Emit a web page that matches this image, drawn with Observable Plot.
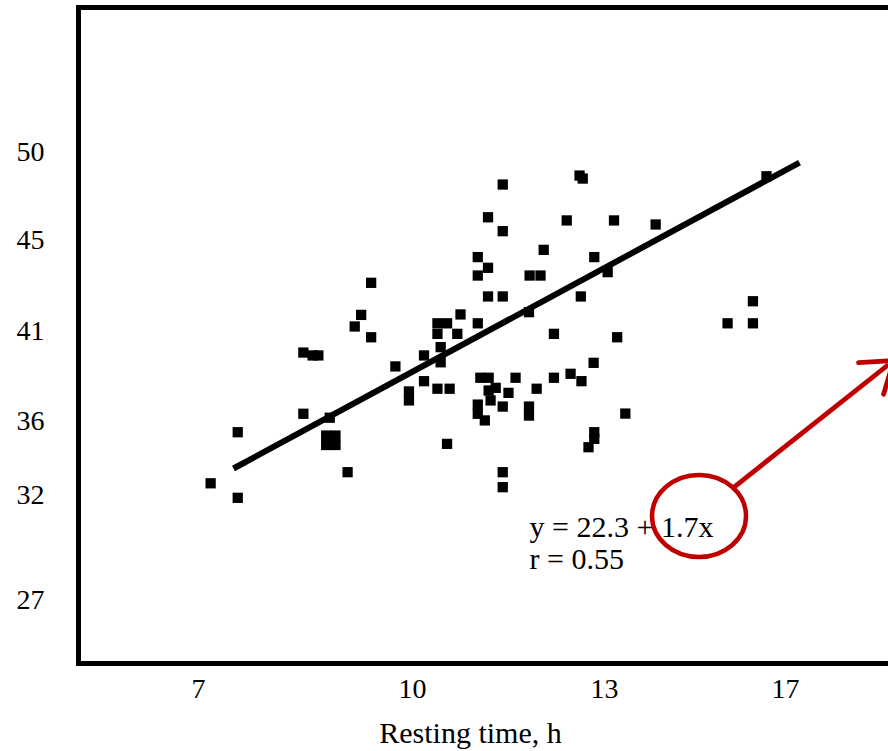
<!DOCTYPE html>
<html><head><meta charset="utf-8">
<script src="https://cdn.jsdelivr.net/npm/d3@7"></script>
<script src="https://cdn.jsdelivr.net/npm/@observablehq/plot@0.6"></script>
<style>
html,body{margin:0;padding:0;background:#fff;overflow:hidden;}
svg{overflow:hidden;}
</style></head><body><div id="chart"></div>
<script>
// Data (axis units as labelled on the chart)
const restingTime = [9.42,9.28,9.19,9.42,8.47,8.60,8.68,9.76,10.18,10.18,9.95,9.95,8.47,8.84,8.79,8.92,8.79,8.92,7.55,9.09,7.17,7.55,
  11.41,12.61,12.66,11.18,12.41,13.21,11.41,12.05,11.02,12.84,11.18,11.02,11.83,12.00,13.07,11.18,11.41,12.63,10.75,11.02,10.39,10.54,
  10.39,10.70,11.82,12.21,13.28,10.44,10.44,12.83,10.58,10.39,11.06,11.19,11.61,12.21,12.47,12.64,11.19,11.30,11.50,11.94,11.22,11.41,
  11.02,11.02,11.13,11.82,11.82,10.54,12.84,12.84,12.75,11.41,11.41,13.46,14.13,16.58,16.28,15.72,16.28];
const measure = [43.14,41.73,41.22,40.68,39.83,39.67,39.67,39.06,39.67,38.24,37.67,37.17,36.43,36.21,35.24,35.24,34.73,34.73,35.42,33.26,32.66,31.89,
  48.18,48.69,48.52,46.32,46.14,46.14,45.53,44.59,44.27,44.27,43.80,43.46,43.46,43.46,43.61,42.54,42.54,42.54,41.75,41.36,41.36,41.36,
  40.87,40.87,41.85,40.87,40.68,40.13,39.29,39.26,37.82,37.82,38.43,38.43,38.43,38.43,38.65,38.24,37.72,37.87,37.59,37.82,37.17,36.83,
  36.94,36.43,36.06,36.83,36.33,34.79,35.42,35.06,34.61,33.26,32.45,36.44,45.91,48.65,42.33,41.36,41.36];
const xTicks = [7, 10, 13, 17];
const yTicks = [27, 32, 36, 41, 45, 50];
const fitLineX = [7.49, 17.31];
const fitLineY = [33.46, 49.43];
const equationLines = ["y = 22.3 + 1.7x", "r = 0.55"];
const equationAt = [11.83, 31.11];
const highlightAt = [15.10, 31.0];
const arrowFrom = [15.85, 32.43];
const arrowTo = [19.39, 39.39];
const xLabel = "Resting time, h";

const points = restingTime.map((x, i) => ({x, y: measure[i]}));
const fitLine = fitLineX.map((x, i) => ({x, y: fitLineY[i]}));
const red = "#c00000";

const chart = Plot.plot({
  width: 888,
  height: 751,
  marginLeft: 78,
  marginRight: -14,
  marginTop: 7,
  marginBottom: 88,
  style: {fontFamily: "'Liberation Serif','Times New Roman',serif", fontSize: "28px", color: "#000", background: "#fff", overflow: "hidden"},
  x: {type: "linear", domain: xTicks, range: [198, 412, 604, 785]},
  y: {type: "linear", domain: yTicks, range: [600, 495, 421, 331, 240, 152]},
  marks: [
    Plot.axisX({ticks: xTicks, tickSize: 0, tickPadding: 15, fontSize: 28, label: null}),
    Plot.axisY({ticks: yTicks, tickSize: 0, tickPadding: 34, fontSize: 28, label: null}),
    Plot.dot(points, {x: "x", y: "y", symbol: "square", r: 5.8, fill: "#000", stroke: "none"}),
    Plot.line(fitLine, {x: "x", y: "y", stroke: "#000", strokeWidth: 6, strokeLinecap: "butt"}),
    Plot.text([equationLines.join("\n")], {x: () => equationAt[0], y: () => equationAt[1], textAnchor: "start", lineAnchor: "top", lineHeight: 1.07, fontSize: 30, fill: "#000"}),
    (index, scales) => {
      const e = document.createElementNS("http://www.w3.org/2000/svg", "ellipse");
      e.setAttribute("cx", scales.x(highlightAt[0]));
      e.setAttribute("cy", scales.y(highlightAt[1]));
      e.setAttribute("rx", 47);
      e.setAttribute("ry", 41);
      e.setAttribute("fill", "none");
      e.setAttribute("stroke", red);
      e.setAttribute("stroke-width", 4.5);
      return e;
    },
    Plot.arrow([0], {x1: () => arrowFrom[0], y1: () => arrowFrom[1], x2: () => arrowTo[0], y2: () => arrowTo[1],
      stroke: red, strokeWidth: 4.8, headLength: 11, headAngle: 70, insetStart: 0, insetEnd: 0}),
    Plot.text([xLabel], {frameAnchor: "bottom", dx: -20, dy: 58, lineAnchor: "top", fontSize: 30, fill: "#000"}),
    Plot.frame({stroke: "#000", strokeWidth: 5})
  ]
});
document.getElementById("chart").appendChild(chart);
</script></body></html>
